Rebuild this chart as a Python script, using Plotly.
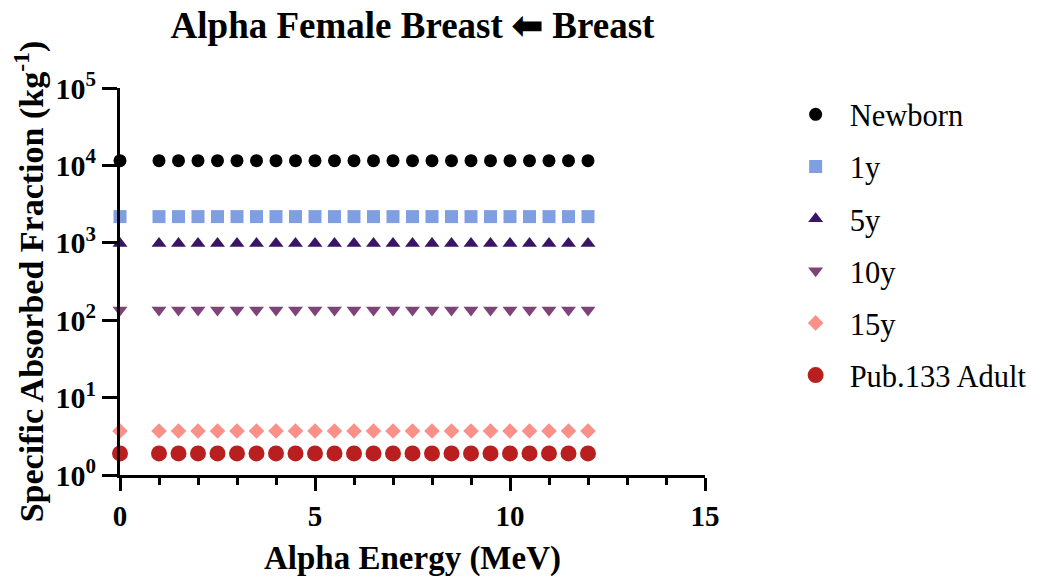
import plotly.graph_objects as go

# Alpha energies (MeV)
energy = [0, 1, 1.5, 2, 2.5, 3, 3.5, 4, 4.5, 5, 5.5, 6, 6.5, 7, 7.5, 8,
          8.5, 9, 9.5, 10, 10.5, 11, 11.5, 12]

# Specific absorbed fraction (kg^-1), breast <- breast, per phantom
newborn = [11500] * len(energy)
y1 = [2180] * len(energy)
y5 = [980] * len(energy)
y10 = [135] * len(energy)
y15 = [3.7] * len(energy)
adult = [1.9] * len(energy)

series_names = ["Newborn", "1y", "5y", "10y", "15y", "Pub.133 Adult"]
series_values = [newborn, y1, y5, y10, y15, adult]
series_colors = ["#000000", "#7F9FE2", "#3A1566", "#7E4478", "#FA9088", "#B81F1E"]
series_symbols = ["circle", "square", "triangle-up", "triangle-down", "diamond", "circle"]
series_sizes = [13, 13, 13, 13, 12, 16]

xtick_vals = [0, 5, 10, 15]
xtick_text = ["<b>0</b>", "<b>5</b>", "<b>10</b>", "<b>15</b>"]
ytick_vals = [1, 10, 100, 1000, 10000, 100000]
ytick_text = ["<b>10<sup>0</sup></b>", "<b>10<sup>1</sup></b>", "<b>10<sup>2</sup></b>",
              "<b>10<sup>3</sup></b>", "<b>10<sup>4</sup></b>", "<b>10<sup>5</sup></b>"]

FONT = "Liberation Serif, Times New Roman, serif"

fig = go.Figure()
for name, vals, col, sym, sz in zip(series_names, series_values, series_colors,
                                    series_symbols, series_sizes):
    fig.add_trace(go.Scatter(
        x=energy, y=vals, mode="markers", name=name, legendgroup=name,
        marker=dict(color=col, symbol=sym, size=sz, line=dict(width=0)),
        cliponaxis=False,
    ))

fig.update_layout(
    width=1050, height=580,
    margin=dict(l=120, r=345, t=88, b=105, autoexpand=False),
    plot_bgcolor="white", paper_bgcolor="white",
    font=dict(family=FONT, color="black"),
    title=dict(
        text="<b>Alpha Female Breast ⬅ Breast</b>",
        x=0.5, xref="paper", y=1 - 25 / 580, yref="container",
        xanchor="center", yanchor="middle",
        font=dict(family=FONT, size=37, color="black"),
    ),
    legend=dict(
        x=1.131, y=1.0, xanchor="left", yanchor="top",
        font=dict(family=FONT, size=30.5, color="black"),
        tracegroupgap=9.5, itemwidth=58, bgcolor="rgba(0,0,0,0)",
    ),
    showlegend=True,
)

fig.update_xaxes(
    range=[0, 15], tickvals=xtick_vals, ticktext=xtick_text,
    showgrid=False, zeroline=False,
    showline=True, linecolor="black", linewidth=3,
    ticks="outside", ticklen=13, tickwidth=3, tickcolor="black",
    minor=dict(dtick=1, ticks="outside", ticklen=7, tickwidth=3, tickcolor="black"),
    tickfont=dict(family=FONT, size=29, color="black"),
    title=dict(text="<b>Alpha Energy (MeV)</b>", standoff=16,
               font=dict(family=FONT, size=33, color="black")),
    automargin=False,
)

fig.update_yaxes(
    type="log", range=[0, 5],
    tickvals=ytick_vals, ticktext=ytick_text,
    showgrid=False, zeroline=False,
    showline=True, linecolor="black", linewidth=3,
    ticks="outside", ticklen=15, tickwidth=3, tickcolor="black",
    tickfont=dict(family=FONT, size=30, color="black"),
    title=dict(text="<b>Specific Absorbed Fraction (kg<sup>-1</sup>)</b>", standoff=2,
               font=dict(family=FONT, size=34, color="black")),
    automargin=False,
)

fig.write_html("out.html")
